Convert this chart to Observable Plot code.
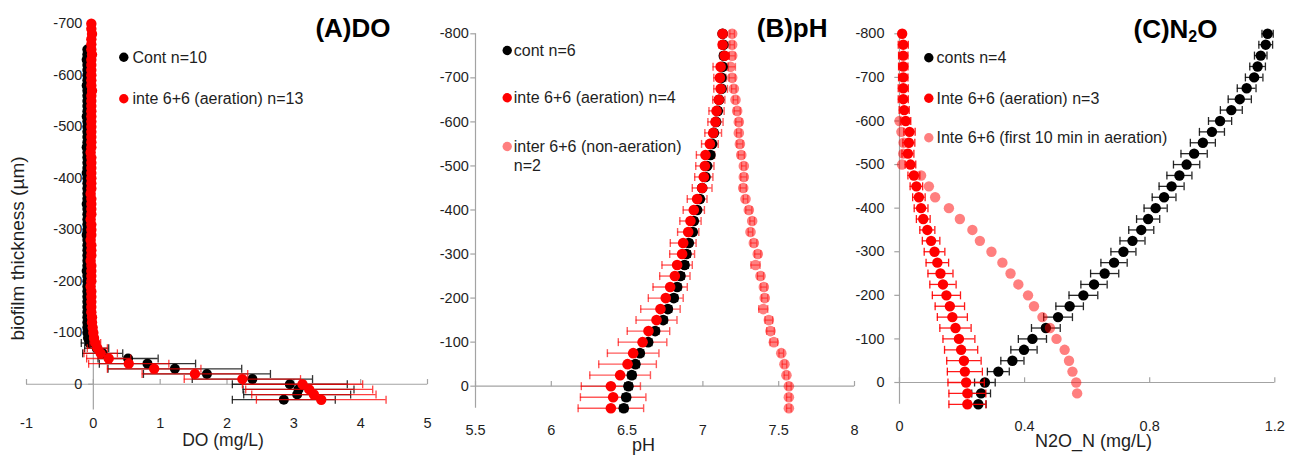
<!DOCTYPE html>
<html><head><meta charset="utf-8">
<script src="https://cdn.jsdelivr.net/npm/d3@7"></script>
<script src="https://cdn.jsdelivr.net/npm/@observablehq/plot@0.6"></script>
<style>
body{margin:0;background:#fff;}
#wrap{position:relative;width:1296px;height:457px;overflow:hidden;background:#fff;}
#wrap svg{position:absolute;top:0;}
</style></head><body><div id="wrap"></div>
<script>
// ---------- Panel A: DO ----------
const depthA_cont = [-650,-640,-630,-620,-610,-600,-590,-580,-570,-560,-550,-540,-530,-520,-510,-500,-490,-480,-470,-460,-450,-440,-430,-420,-410,-400,-390,-380,-370,-360,-350,-340,-330,-320,-310,-300,-290,-280,-270,-260,-250,-240,-230,-220,-210,-200,-190,-180,-170,-160,-150,-140,-130,-120,-110,-100,-90,-80,-70,-60,-50,-40,-30,-20,-10,0,10,20,30];
const doCont = [-0.09,-0.09,-0.10,-0.09,-0.09,-0.09,-0.09,-0.10,-0.09,-0.09,
-0.09,-0.09,-0.09,-0.10,-0.09,-0.09,-0.09,-0.09,-0.09,-0.10,
-0.09,-0.09,-0.09,-0.09,-0.10,-0.09,-0.09,-0.09,-0.09,-0.09,
-0.10,-0.09,-0.09,-0.09,-0.09,-0.09,-0.10,-0.09,-0.09,-0.09,
-0.09,-0.09,-0.09,-0.10,-0.09,-0.09,-0.09,-0.09,-0.09,-0.09,
-0.09,-0.09,-0.09,-0.09,-0.09,
-0.09,-0.08,-0.06,0.05,0.14,0.52,0.81,1.22,1.70,2.38,2.94,3.07,3.05,2.85];
const contErrDepths = [-90,-80,-70,-60,-50,-40,-30,-20,-10,0,10,20,30];
const doContErr = [0.05,0.12,0.18,0.3,0.45,0.72,1.0,0.95,0.9,0.86,0.83,0.8,0.77];

const depthA_inte = [-700,-690,-680,-670,-660,-650,-640,-630,-620,-610,-600,-590,-580,-570,-560,-550,-540,-530,-520,-510,-500,-490,-480,-470,-460,-450,-440,-430,-420,-410,-400,-390,-380,-370,-360,-350,-340,-330,-320,-310,-300,-290,-280,-270,-260,-250,-240,-230,-220,-210,-200,-190,-180,-170,-160,-150,-140,-130,-120,-110,-100,-90,-80,-70,-60,-50,-40,-30,-20,-10,0,10,20,30];
const doInte = [-0.03,-0.03,-0.02,-0.03,-0.03,-0.03,-0.02,-0.03,-0.03,-0.03,
-0.03,-0.03,-0.03,-0.02,-0.03,-0.03,-0.03,-0.03,-0.03,-0.03,
-0.03,-0.03,-0.03,-0.03,-0.03,-0.04,-0.03,-0.03,-0.03,-0.03,
-0.03,-0.03,-0.03,-0.04,-0.03,-0.03,-0.03,-0.03,-0.04,-0.03,
-0.03,-0.03,-0.04,-0.03,-0.03,-0.03,-0.04,-0.03,-0.03,-0.03,
-0.03,-0.04,-0.03,-0.03,-0.03,-0.03,-0.03,-0.02,
-0.02,-0.01,0.0,0.01,0.03,0.06,0.11,0.23,0.53,0.91,1.52,2.23,3.13,3.23,3.30,3.41];
const inteErrDepths = [-110,-100,-90,-80,-70,-60,-50,-40,-30,-20,-10,0,10,20,30];
const doInteErr = [0.01,0.02,0.04,0.08,0.15,0.25,0.33,0.6,0.7,0.79,0.87,0.9,0.95,0.93,0.97];

const xTicksA = [-1,0,1,2,3,4,5];
const yTicksA = [-700,-600,-500,-400,-300,-200,-100,0];

// ---------- Panel B: pH ----------
const depthB = [-800,-775,-750,-725,-700,-675,-650,-625,-600,-575,-550,-525,-500,-475,-450,-425,-400,-375,-350,-325,-300,-275,-250,-225,-200,-175,-150,-125,-100,-75,-50,-25,0,25,50];
const phCont = [7.13,7.135,7.138,7.13,7.123,7.123,7.107,7.098,7.087,7.072,7.061,7.05,7.028,7.017,6.995,6.98,6.962,6.94,6.933,6.907,6.892,6.879,6.852,6.83,6.808,6.769,6.738,6.685,6.639,6.584,6.555,6.531,6.509,6.494,6.478];
const phContErr = [0.01,0.01,0.015,0.02,0.02,0.02,0.02,0.02,0.02,0.02,0.02,0.02,0.02,0.02,0.02,0.02,0.02,0.02,0.02,0.02,0.025,0.025,0.025,0.025,0.025,0.025,0.025,0.025,0.025,0.025,0.025,0.025,0.025,0.025,0.025];
const phInte = [7.13,7.13,7.143,7.117,7.112,7.117,7.105,7.09,7.083,7.068,7.046,7.017,7.013,7.006,6.995,6.962,6.94,6.918,6.903,6.87,6.863,6.83,6.815,6.784,6.755,6.72,6.694,6.641,6.602,6.54,6.503,6.454,6.393,6.408,6.393];
const phInteErr = [0.02,0.025,0.03,0.05,0.04,0.045,0.04,0.05,0.05,0.055,0.055,0.06,0.06,0.06,0.065,0.065,0.07,0.07,0.07,0.085,0.082,0.1,0.1,0.113,0.115,0.13,0.135,0.14,0.16,0.17,0.19,0.2,0.195,0.216,0.216];
const phNon = [7.193,7.193,7.193,7.182,7.193,7.204,7.215,7.226,7.237,7.237,7.244,7.253,7.27,7.27,7.266,7.281,7.303,7.325,7.314,7.336,7.362,7.347,7.38,7.402,7.408,7.398,7.435,7.446,7.468,7.517,7.538,7.551,7.567,7.567,7.567];
const phNonErr = [0.015,0.015,0.02,0.033,0.02,0.015,0.015,0.02,0.02,0.015,0.02,0.02,0.015,0.02,0.02,0.015,0.02,0.015,0.015,0.02,0.02,0.03,0.02,0.02,0.02,0.03,0.025,0.025,0.025,0.015,0.015,0.015,0.015,0.015,0.015];
const xTicksB = [5.5,6,6.5,7,7.5,8];
const yTicksB = [-800,-700,-600,-500,-400,-300,-200,-100,0];

// ---------- Panel C: N2O ----------
const depthC = [-800,-775,-750,-725,-700,-675,-650,-625,-600,-575,-550,-525,-500,-475,-450,-425,-400,-375,-350,-325,-300,-275,-250,-225,-200,-175,-150,-125,-100,-75,-50,-25,0,25,50];
const n2oCont = [1.177,1.171,1.155,1.145,1.134,1.110,1.088,1.061,1.025,0.999,0.970,0.942,0.918,0.895,0.870,0.846,0.819,0.795,0.773,0.745,0.716,0.686,0.656,0.622,0.588,0.544,0.507,0.468,0.425,0.398,0.361,0.316,0.273,0.261,0.252];
const n2oContErr = [0.018,0.022,0.02,0.025,0.028,0.03,0.037,0.035,0.037,0.04,0.04,0.042,0.042,0.04,0.04,0.038,0.037,0.037,0.04,0.04,0.04,0.042,0.045,0.042,0.046,0.044,0.046,0.046,0.045,0.042,0.037,0.035,0.033,0.03,0.025];
const n2oInte = [0.0085,0.012,0.012,0.012,0.012,0.012,0.012,0.015,0.02,0.032,0.03,0.027,0.035,0.046,0.054,0.062,0.069,0.076,0.089,0.101,0.112,0.121,0.131,0.139,0.15,0.161,0.169,0.179,0.19,0.197,0.206,0.209,0.213,0.217,0.217];
const n2oInteErr = [0.008,0.016,0.015,0.015,0.015,0.016,0.016,0.016,0.016,0.018,0.019,0.019,0.017,0.019,0.02,0.02,0.022,0.022,0.024,0.028,0.033,0.036,0.04,0.042,0.045,0.047,0.048,0.05,0.051,0.053,0.055,0.056,0.058,0.059,0.059];
const depthC_first = [-600,-575,-550,-525,-500,-475,-450,-425,-400,-375,-350,-325,-300,-275,-250,-225,-200,-175,-150,-125,-100,-75,-50,-25,0,25];
const n2oFirst = [0.0,0.006,0.013,0.012,0.008,0.069,0.094,0.114,0.158,0.193,0.233,0.257,0.294,0.329,0.355,0.38,0.411,0.43,0.457,0.481,0.502,0.528,0.542,0.553,0.565,0.568];
const xTicksC = [0,0.4,0.8,1.2];
const yTicksC = [-800,-700,-600,-500,-400,-300,-200,-100,0];

// ---------- helpers ----------
const FONT = '"Liberation Sans", Arial, Helvetica, sans-serif';
const AXIS = "#a3a3a3";
const TXT = "#1e1e1e";
const vcap = {draw(ctx, size){const r=Math.sqrt(size/Math.PI); ctx.moveTo(0,-r); ctx.lineTo(0,r);}};
const hcap = {draw(ctx, size){const r=Math.sqrt(size/Math.PI); ctx.moveTo(-r,0); ctx.lineTo(r,0);}};

function rows(depths, vals, errs){ return depths.map((d,i)=>({d, v: vals[i], e: errs ? errs[i] : 0})); }
function rowsKeyed(depths, vals, errDepths, errs){
  const m = new Map(errDepths.map((d,i)=>[d, errs[i]]));
  return depths.map((d,i)=>({d, v: vals[i], e: m.get(d) || 0}));
}
function errMarks(data, color, opacity, capR, sw){
  const f = data.filter(r => r.e > 0);
  const o = {stroke: color, strokeOpacity: opacity, strokeWidth: sw};
  return [
    Plot.ruleY(f, {y:"d", x1: r=>r.v-r.e, x2: r=>r.v+r.e, ...o}),
    Plot.dot(f, {x: r=>r.v-r.e, y:"d", symbol: vcap, r: capR, fill: "none", ...o}),
    Plot.dot(f, {x: r=>r.v+r.e, y:"d", symbol: vcap, r: capR, fill: "none", ...o})
  ];
}
function axesMarks(x0, xTicks, yTicks, yLabelDx, xLabelDy){
  return [
    Plot.ruleY([0], {stroke: AXIS, strokeWidth: 1.2}),
    Plot.ruleX([x0], {stroke: AXIS, strokeWidth: 1.2}),
    Plot.dot(xTicks, {x: d=>d, y: ()=>0, symbol: vcap, r: 2.6, dy: -2.6, stroke: AXIS, strokeWidth: 1.2}),
    Plot.dot(yTicks, {x: ()=>x0, y: d=>d, symbol: hcap, r: 2.6, dx: -2.6, stroke: AXIS, strokeWidth: 1.2}),
    Plot.text(yTicks, {x: ()=>x0, y: d=>d, text: d=>String(d), textAnchor: "end", dx: yLabelDx, fontSize: 14.5, fill: TXT}),
    Plot.text(xTicks, {x: d=>d, frameAnchor: "bottom", dy: xLabelDy, text: d=>String(d), fontSize: 14.5, fill: TXT, lineAnchor: "middle"})
  ];
}
function absText(str, X, Y, m, opts){
  return Plot.text([str], {frameAnchor: "top-left", dx: X - m.left, dy: Y - m.top, text: d=>d, lineAnchor: "middle", fill: TXT, ...opts});
}
function legendDot(X, Y, m, fill, opacity){
  return Plot.dot([0], {frameAnchor: "top-left", dx: X - m.left, dy: Y - m.top, r: 4.7, fill, fillOpacity: opacity, stroke: "none"});
}
function makePlot(w, m, xdom, ydom, marks){
  return Plot.plot({
    width: w, height: 457,
    marginLeft: m.left, marginRight: m.right, marginTop: m.top, marginBottom: m.bottom,
    x: {domain: xdom, axis: null},
    y: {domain: ydom, axis: null},
    style: {fontFamily: FONT, background: "transparent", overflow: "visible"},
    marks
  });
}

const wrap = document.getElementById("wrap");

// ---------- Panel A ----------
{
  const m = {left: 26, right: 3, top: 23.2, bottom: 47.5};
  const cont = rowsKeyed(depthA_cont, doCont, contErrDepths, doContErr);
  const inte = rowsKeyed(depthA_inte, doInte, inteErrDepths, doInteErr);
  const svg = makePlot(430, m, [-1, 5], [50, -700], [
    ...axesMarks(0, xTicksA, yTicksA, -11, 13.5),
    ...errMarks(cont, "#111", 0.85, 4, 1.3),
    Plot.dot(cont, {x: "v", y: "d", r: 5, fill: "#000"}),
    ...errMarks(inte, "#ff0000", 0.75, 4, 1.3),
    Plot.dot(inte, {x: "v", y: "d", r: 5.2, fill: "#ff0000"}),
    absText("(A)DO", 390, 27.7, m, {textAnchor: "end", fontSize: 26, fontWeight: "bold", fill: "#000"}),
    legendDot(123.3, 56.7, m, "#000", 1),
    absText("Cont n=10", 132, 57, m, {textAnchor: "start", fontSize: 16}),
    legendDot(123.3, 98.3, m, "#ff0000", 1),
    absText("inte 6+6 (aeration) n=13", 132, 98.5, m, {textAnchor: "start", fontSize: 16}),
    absText("biofilm thickness (µm)", 17, 248, m, {rotate: -90, textAnchor: "middle", fontSize: 19}),
    absText("DO (mg/L)", 222.5, 440, m, {textAnchor: "middle", fontSize: 17.5})
  ]);
  svg.style.left = "0px";
  wrap.appendChild(svg);
}

// ---------- Panel B ----------
{
  const m = {left: 45, right: 6, top: 33.3, bottom: 49.3};
  const cont = rows(depthB, phCont, phContErr);
  const inte = rows(depthB, phInte, phInteErr);
  const non = rows(depthB, phNon, phNonErr);
  const svg = makePlot(430, m, [5.5, 8], [50, -800], [
    ...axesMarks(5.5, xTicksB, yTicksB, -6.7, 22.3),
    ...errMarks(non, "#ff0000", 0.5, 4, 1.3),
    Plot.dot(non, {x: "v", y: "d", r: 5.3, fill: "#ff0000", fillOpacity: 0.5}),
    ...errMarks(inte, "#ff0000", 0.65, 4, 1.4),
    ...errMarks(cont, "#111", 0.9, 4, 1.3),
    Plot.dot(cont, {x: "v", y: "d", r: 5.3, fill: "#000"}),
    Plot.dot(inte, {x: "v", y: "d", r: 5.3, fill: "#ff0000"}),
    absText("(B)pH", 397, 28.3, m, {textAnchor: "end", fontSize: 26, fontWeight: "bold", fill: "#000"}),
    legendDot(76.7, 50, m, "#000", 1),
    absText("cont n=6", 83.3, 50.3, m, {textAnchor: "start", fontSize: 16}),
    legendDot(76.7, 97.3, m, "#ff0000", 1),
    absText("inte 6+6 (aeration) n=4", 83.3, 97.5, m, {textAnchor: "start", fontSize: 16}),
    legendDot(76.7, 146, m, "#ff0000", 0.5),
    absText("inter 6+6 (non-aeration)", 83.3, 146.2, m, {textAnchor: "start", fontSize: 16}),
    absText("n=2", 83.3, 165.5, m, {textAnchor: "start", fontSize: 16}),
    absText("pH", 213, 445, m, {textAnchor: "middle", fontSize: 18})
  ]);
  svg.style.left = "430px";
  wrap.appendChild(svg);
}

// ---------- Panel C ----------
{
  const m = {left: 39, right: 21.7, top: 33.3, bottom: 53.2};
  const cont = rows(depthC, n2oCont, n2oContErr);
  const inte = rows(depthC, n2oInte, n2oInteErr);
  const first = rows(depthC_first, n2oFirst, null);
  const svg = makePlot(436, m, [0, 1.2], [50, -800], [
    ...axesMarks(0, xTicksC, yTicksC, -15, 22),
    ...errMarks(cont, "#111", 0.9, 4, 1.3),
    Plot.dot(cont, {x: "v", y: "d", r: 5.2, fill: "#000"}),
    ...errMarks(inte, "#ff0000", 0.9, 4, 1.3),
    Plot.dot(inte, {x: "v", y: "d", r: 5.2, fill: "#ff0000"}),
    Plot.dot(first, {x: "v", y: "d", r: 5.2, fill: "#ff0000", fillOpacity: 0.5}),
    absText("(C)N2O", 357, 29, m, {textAnchor: "end", fontSize: 26, fontWeight: "bold", fill: "#000"}),
    legendDot(68.3, 57.3, m, "#000", 1),
    absText("conts n=4", 76, 57.5, m, {textAnchor: "start", fontSize: 16}),
    legendDot(68.3, 97.7, m, "#ff0000", 1),
    absText("Inte 6+6 (aeration) n=3", 76, 98, m, {textAnchor: "start", fontSize: 16}),
    legendDot(68.3, 137.3, m, "#ff0000", 0.5),
    absText("Inte 6+6 (first 10 min in aeration)", 76, 137.6, m, {textAnchor: "start", fontSize: 16}),
    absText("N2O_N (mg/L)", 233, 441, m, {textAnchor: "middle", fontSize: 18})
  ]);
  svg.style.left = "860px";
  wrap.appendChild(svg);
  // subscript 2 in the panel title
  d3.select(svg).selectAll("text").filter(function(){ return this.textContent === "(C)N2O"; }).each(function(){
    const t = d3.select(this);
    t.text(null);
    t.append("tspan").text("(C)N");
    t.append("tspan").attr("dy", 4).attr("font-size", 16).text("2");
    t.append("tspan").attr("dy", -4).text("O");
  });
}
</script>
</body></html>
